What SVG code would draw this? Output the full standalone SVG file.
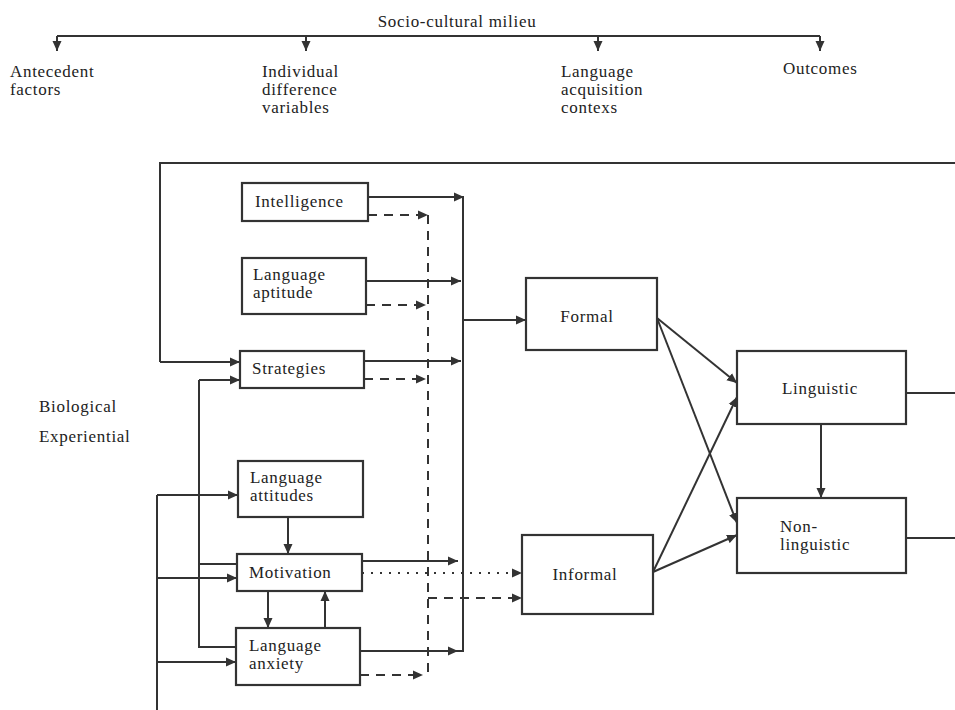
<svg xmlns="http://www.w3.org/2000/svg" width="955" height="710" viewBox="0 0 955 710">
<defs>
<marker id="ah" viewBox="0 0 10 10" refX="10" refY="5" markerWidth="10" markerHeight="10" markerUnits="userSpaceOnUse" orient="auto">
<path d="M0,0.5 L10,5 L0,9.5 z" fill="#333"/>
</marker>
</defs>
<style>
text{font-family:"Liberation Serif","Times New Roman",serif;font-size:17px;letter-spacing:0.7px;fill:#222}
.box{fill:#fff;stroke:#333;stroke-width:2.2}
.ln{fill:none;stroke:#333;stroke-width:2}
.ar{fill:none;stroke:#333;stroke-width:2;marker-end:url(#ah)}
.da{fill:none;stroke:#333;stroke-width:2;stroke-dasharray:9,7}
</style>
<rect width="955" height="710" fill="#fff"/>

<g id="header">
<text x="457" y="27" text-anchor="middle">Socio-cultural milieu</text>
<path class="ln" d="M57,36 H820"/>
<path class="ar" d="M57,36 V51"/>
<path class="ar" d="M306,36 V51"/>
<path class="ar" d="M598,36 V51"/>
<path class="ar" d="M820,36 V51"/>
<text x="10" y="77">Antecedent</text>
<text x="10" y="95">factors</text>
<text x="262" y="77">Individual</text>
<text x="262" y="95">difference</text>
<text x="262" y="113">variables</text>
<text x="561" y="77">Language</text>
<text x="561" y="95">acquisition</text>
<text x="561" y="113">contexs</text>
<text x="783" y="74">Outcomes</text>
</g>

<g id="labels">
<text x="39" y="412">Biological</text>
<text x="39" y="442">Experiential</text>
</g>

<g id="connectors">
<path class="ln" d="M955,163 H160 V362"/>
<path class="ar" d="M160,362 H240"/>
<path class="ln" d="M199,380 V647 H236"/>
<path class="ar" d="M199,380 H240"/>
<path class="ln" d="M199,564 H237"/>
<path class="ln" d="M157,495 V710"/>
<path class="ar" d="M157,495 H238"/>
<path class="ar" d="M157,578 H237"/>
<path class="ar" d="M157,662 H236"/>
<path class="ar" d="M288,517 V554"/>
<path class="ar" d="M268,591 V628"/>
<path class="ar" d="M325,628 V591"/>
<path class="ar" d="M368,197 H464"/>
<path class="ar" d="M366,281 H461"/>
<path class="ar" d="M364,361 H461"/>
<path class="ar" d="M362,561 H458"/>
<path class="ar" d="M360,651 H458"/>
<path class="ln" d="M463,197 V651 H458"/>
<path class="ar" d="M463,320 H526"/>
<path class="ar" d="M368,215 H428" style="stroke-dasharray:9,7"/>
<path class="ar" d="M366,305 H426" style="stroke-dasharray:9,7"/>
<path class="ar" d="M364,379 H426" style="stroke-dasharray:9,7"/>
<path class="ar" d="M360,675 H423" style="stroke-dasharray:9,7"/>
<path class="da" d="M428,215 V675"/>
<path class="ar" d="M428,598 H522" style="stroke-dasharray:9,7"/>
<path class="ar" d="M362,573 H522" style="stroke-dasharray:2,7"/>
<path class="ar" d="M657,318 L737,383"/>
<path class="ar" d="M657,318 L737,523"/>
<path class="ar" d="M653,572 L737,397"/>
<path class="ar" d="M653,572 L737,535"/>
<path class="ar" d="M821,424 V498"/>
<path class="ln" d="M906,393 H955"/>
<path class="ln" d="M906,538 H955"/>
</g>

<g id="intelligence"><rect class="box" x="242" y="183" width="126" height="38"/><text x="255" y="207">Intelligence</text></g>
<g id="language-aptitude"><rect class="box" x="242" y="258" width="124" height="56"/><text x="253" y="280">Language</text><text x="253" y="298">aptitude</text></g>
<g id="strategies"><rect class="box" x="240" y="351" width="124" height="37"/><text x="252" y="374">Strategies</text></g>
<g id="language-attitudes"><rect class="box" x="238" y="461" width="125" height="56"/><text x="250" y="483">Language</text><text x="250" y="501">attitudes</text></g>
<g id="motivation"><rect class="box" x="237" y="554" width="125" height="37"/><text x="249" y="578">Motivation</text></g>
<g id="language-anxiety"><rect class="box" x="236" y="628" width="124" height="57"/><text x="249" y="651">Language</text><text x="249" y="669">anxiety</text></g>
<g id="formal"><rect class="box" x="526" y="278" width="131" height="72"/><text x="587" y="322" text-anchor="middle">Formal</text></g>
<g id="informal"><rect class="box" x="522" y="535" width="131" height="79"/><text x="585" y="580" text-anchor="middle">Informal</text></g>
<g id="linguistic"><rect class="box" x="737" y="351" width="169" height="73"/><text x="820" y="394" text-anchor="middle">Linguistic</text></g>
<g id="non-linguistic"><rect class="box" x="737" y="498" width="169" height="75"/><text x="780" y="532">Non-</text><text x="780" y="550">linguistic</text></g>
</svg>
